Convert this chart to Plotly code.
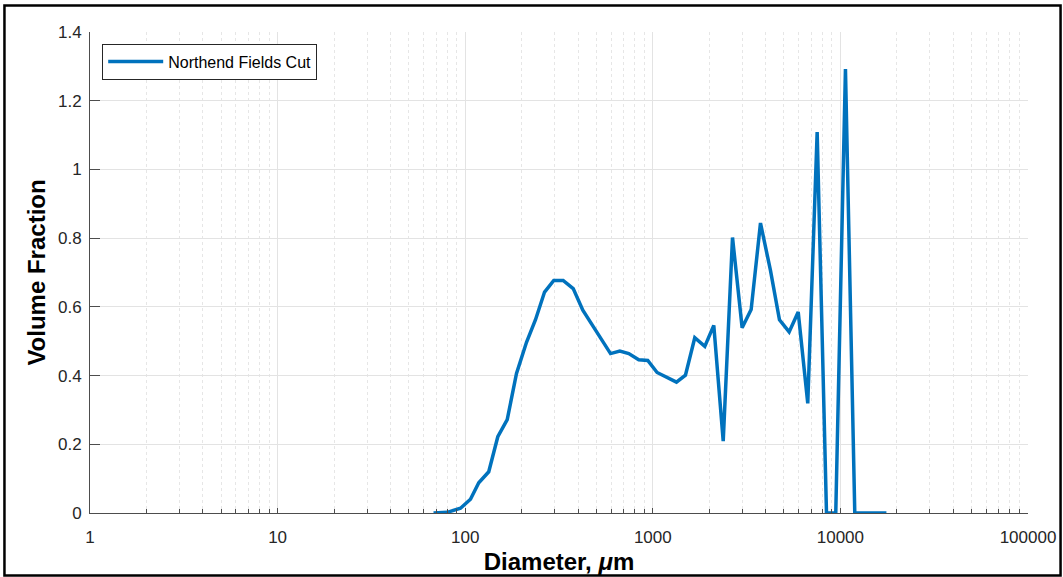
import plotly.graph_objects as go

# Diameter (micrometres) and volume fraction
diameter_um = [67.8, 80.2, 94.4, 106.7, 118.1, 133.5, 149.2, 167.5, 187.7, 212.2,
               237, 264.8, 296.6, 332.7, 376.5, 423.6, 477.1, 530.9, 595.2, 666.8,
               744.7, 841.4, 940, 1054, 1202, 1337, 1493, 1674, 1893, 2114,
               2373, 2660, 2994, 3344, 3750, 4238, 4733, 5331, 5957, 6699,
               7518, 8430, 9448, 10640, 11930, 13520, 15380, 17590]
volume_fraction = [0.0, 0.002, 0.014, 0.04, 0.088, 0.12, 0.222, 0.272, 0.406, 0.497,
                   0.5625, 0.643, 0.677, 0.677, 0.653, 0.59, 0.546, 0.507, 0.464, 0.471,
                   0.464, 0.446, 0.444, 0.409, 0.394, 0.381, 0.401, 0.510, 0.485, 0.546,
                   0.209, 0.802, 0.539, 0.592, 0.844, 0.706, 0.5625, 0.527, 0.585, 0.319,
                   1.109, 0.0, 0.0, 1.292, 0.0, 0.0, 0.0, 0.0]

x_tick_vals = [1, 10, 100, 1000, 10000, 100000]
x_tick_text = ["1", "10", "100", "1000", "10000", "100000"]
y_tick_vals = [0, 0.2, 0.4, 0.6, 0.8, 1.0, 1.2, 1.4]
y_tick_text = ["0", "0.2", "0.4", "0.6", "0.8", "1", "1.2", "1.4"]
series_name = "Northend Fields Cut"

fig = go.Figure()
fig.add_trace(go.Scatter(
    x=diameter_um, y=volume_fraction, mode="lines", name=series_name,
    line=dict(color="#0072BD", width=3.5),
))

tick_font = dict(family="Arial, Liberation Sans, sans-serif", size=17, color="#262626")
title_font = dict(family="Arial, Liberation Sans, sans-serif", size=24, color="#000000", weight="bold")

fig.update_layout(
    width=1063, height=577,
    margin=dict(l=90, r=35, t=32, b=64, autoexpand=False),
    paper_bgcolor="white", plot_bgcolor="white",
    showlegend=True,
    legend=dict(
        x=0.013, y=0.976, xanchor="left", yanchor="top",
        bgcolor="white", bordercolor="#262626", borderwidth=1,
        itemwidth=55, tracegroupgap=0,
        font=dict(family="Arial, Liberation Sans, sans-serif", size=16, color="#000000"),
    ),
    xaxis=dict(
        type="log", range=[0, 5], automargin=False,
        tickvals=x_tick_vals, ticktext=x_tick_text,
        ticks="inside", ticklen=5, tickcolor="#4d4d4d", tickwidth=1,
        showline=True, linecolor="#4d4d4d", linewidth=1, mirror=False,
        showgrid=True, gridcolor="#e3e3e3", gridwidth=1,
        zeroline=False,
        tickfont=tick_font, ticklabelstandoff=9,
        minor=dict(dtick="D1", ticks="inside", ticklen=4, tickcolor="#4d4d4d",
                   showgrid=True, gridcolor="#e6e6e6", griddash="dot", gridwidth=1),
        title=dict(text="Diameter, <i>μ</i>m", font=title_font, standoff=6),
    ),
    yaxis=dict(
        range=[0, 1.4], automargin=False,
        tickvals=y_tick_vals, ticktext=y_tick_text,
        ticks="inside", ticklen=10, tickcolor="#4d4d4d", tickwidth=1,
        showline=True, linecolor="#4d4d4d", linewidth=1, mirror=False,
        showgrid=True, gridcolor="#e3e3e3", gridwidth=1,
        zeroline=False,
        tickfont=tick_font, ticklabelstandoff=4,
        title=dict(text="Volume Fraction", font=title_font, standoff=5),
    ),
    shapes=[dict(
        type="rect", xref="paper", yref="paper",
        x0=-0.0912, x1=1.0347, y0=-0.1299, y1=1.0551,
        line=dict(color="black", width=2.5), fillcolor="rgba(0,0,0,0)", layer="above",
    )],
)

fig.write_html("out.html")
